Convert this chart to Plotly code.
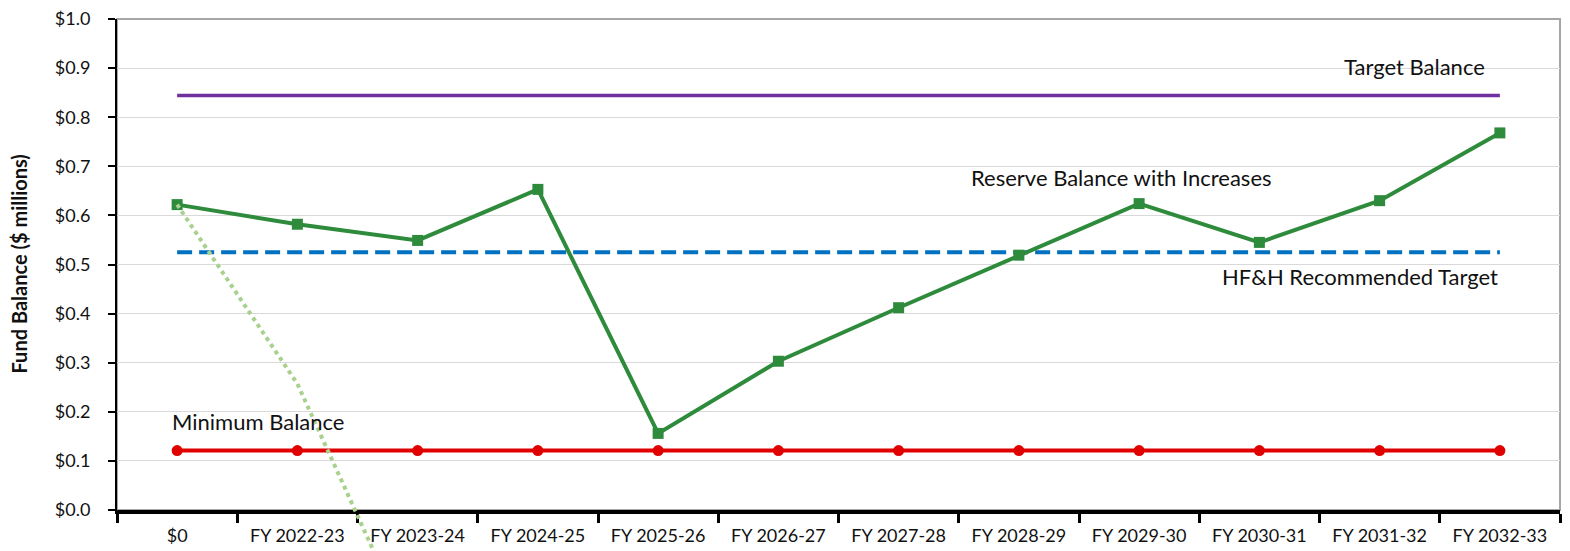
import plotly.graph_objects as go

categories = ["$0", "FY 2022-23", "FY 2023-24", "FY 2024-25", "FY 2025-26", "FY 2026-27",
              "FY 2027-28", "FY 2028-29", "FY 2029-30", "FY 2030-31", "FY 2031-32", "FY 2032-33"]
reserve_with_increases = [0.622, 0.582, 0.549, 0.653, 0.156, 0.303, 0.412, 0.519, 0.624, 0.545, 0.630, 0.768]
target_balance = [0.844] * 12
hfh_target = [0.525] * 12
minimum_balance = [0.121] * 12
reserve_without_increases = [0.622, 0.257, -0.28]
y_ticks = [i / 10 for i in range(11)]
y_tick_text = ["$%.1f" % v for v in y_ticks]

FONT = "Lato, 'Open Sans', sans-serif"

fig = go.Figure()
fig.add_trace(go.Scatter(x=categories, y=target_balance, mode="lines",
                         line=dict(color="#7030a0", width=3.5), name="Target Balance"))
fig.add_trace(go.Scatter(x=categories, y=hfh_target, mode="lines",
                         line=dict(color="#0070c0", width=4, dash="15px,7px"), name="HF&H Recommended Target"))
fig.add_trace(go.Scatter(x=categories, y=reserve_with_increases, mode="lines+markers",
                         line=dict(color="#2e8b3c", width=4),
                         marker=dict(symbol="square", size=11, color="#2e8b3c"),
                         name="Reserve Balance with Increases"))
fig.add_trace(go.Scatter(x=categories, y=minimum_balance, mode="lines+markers",
                         line=dict(color="#e00000", width=4),
                         marker=dict(symbol="circle", size=11, color="#e00000"),
                         name="Minimum Balance"))
fig.add_trace(go.Scatter(x=categories[:len(reserve_without_increases)], y=reserve_without_increases,
                         mode="lines", line=dict(color="#a9d18e", width=4, dash="dot"),
                         xaxis="x2", yaxis="y2", name="Reserve Balance without Increases"))

# page body has an 8px margin; lay the figure out in page pixels minus that offset
OFF = 8
W, H = 1570 - 2 * OFF, 551 - OFF
left_px, right_px = 117 - OFF, 1560 - OFF
top_px, bottom_px = 19 - OFF, 510 - OFF
paper_h = H - top_px
plot_w = right_px - left_px
y_dom_low = (H - bottom_px) / paper_h
px_per_unit = (bottom_px - top_px) / 1.0
y2_min = -(H - bottom_px) / px_per_unit

annotations = [
    dict(x=11, y=0.903, text="Target Balance", xanchor="right", xshift=-13),
    dict(x=7.85, y=0.677, text="Reserve Balance with Increases", xanchor="center"),
    dict(x=11, y=0.475, text="HF&H Recommended Target", xanchor="right"),
    dict(x=0, y=0.18, text="Minimum Balance", xanchor="left", xshift=-7),
]
for a in annotations:
    a.update(xref="x", yref="y", showarrow=False, yanchor="middle",
             font=dict(family=FONT, size=22, color="#111"))
annotations.append(dict(xref="paper", yref="y", x=(18 - 117) / plot_w, y=0.5,
                        text="<b>Fund Balance ($ millions)</b>", textangle=-90,
                        showarrow=False, xanchor="center", yanchor="middle",
                        font=dict(family=FONT, size=20, color="#111")))

fig.update_layout(
    template="none",
    width=W, height=H,
    margin=dict(l=left_px, r=W - right_px, t=top_px, b=0),
    paper_bgcolor="white", plot_bgcolor="rgba(0,0,0,0)",
    showlegend=False,
    font=dict(family=FONT, color="#111"),
    xaxis=dict(type="category", categoryarray=categories, range=[-0.5, 11.5],
               domain=[0, 1], anchor="y", automargin=False,
               showline=True, linecolor="black", linewidth=3.5,
               ticks="outside", ticklen=9, tickwidth=3, tickcolor="black",
               tickson="boundaries", showgrid=False, zeroline=False,
               ticklabelstandoff=7, ticklabeloverflow="allow",
               tickfont=dict(family=FONT, size=18, color="#111")),
    yaxis=dict(range=[0, 1.0], domain=[y_dom_low, 1], anchor="x", automargin=False,
               tickvals=y_ticks, ticktext=y_tick_text,
               showline=True, linecolor="black", linewidth=2,
               ticks="outside", ticklen=7, tickwidth=2, tickcolor="black",
               ticklabelstandoff=14, ticklabeloverflow="allow",
               showgrid=True, gridcolor="#d9d9d9", gridwidth=1, zeroline=False,
               tickfont=dict(family=FONT, size=18, color="#111")),
    xaxis2=dict(type="category", categoryarray=categories, range=[-0.5, 11.5],
                domain=[0, 1], anchor="y2", visible=False, automargin=False),
    yaxis2=dict(range=[y2_min, 1.0], domain=[0, 1], anchor="x2", visible=False, automargin=False),
    annotations=annotations,
    shapes=[dict(type="rect", xref="x domain", yref="y domain", x0=0, x1=1, y0=0, y1=1,
                 line=dict(color="#a6a6a6", width=2), layer="below")],
)

fig.write_html("out.html")
